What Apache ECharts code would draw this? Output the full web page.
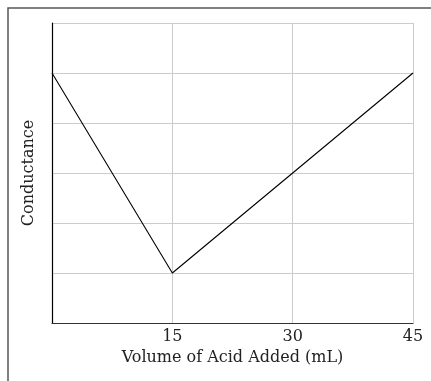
<!DOCTYPE html>
<html><head><meta charset="utf-8">
<script src="https://cdn.jsdelivr.net/npm/echarts@6/dist/echarts.min.js"></script>
<style>html,body{margin:0;padding:0;background:#fff}#c{width:431px;height:381px}</style>
</head><body><div id="c"></div>
<script>
const volume = [0, 15, 45];
const conductance = [5, 1, 5];
const xTicks = [15, 30, 45];
const xName = 'Volume of Acid Added (mL)';
const yName = 'Conductance';

const chart = echarts.init(document.getElementById('c'), null, {renderer: 'canvas'});
const font = 'DejaVu Serif';
chart.setOption({
  animation: false,
  backgroundColor: '#fff',
  graphic: [{
    type: 'rect', shape: {x: 8, y: 8, width: 460, height: 420},
    style: {fill: 'none', stroke: '#555', lineWidth: 1.5}
  }],
  grid: {left: 52, top: 23, right: 18, bottom: 58},
  xAxis: {
    type: 'value', min: 0, max: 45, interval: 15,
    name: xName, nameLocation: 'middle', nameGap: 27,
    nameTextStyle: {fontFamily: font, fontSize: 16, color: '#222'},
    axisLine: {lineStyle: {color: '#333', width: 1.2}},
    axisTick: {show: false},
    axisLabel: {fontFamily: font, fontSize: 16, color: '#222', margin: 6,
      formatter: v => xTicks.includes(v) ? String(v) : ''},
    splitLine: {show: true, lineStyle: {color: '#ccc', width: 1}}
  },
  yAxis: {
    type: 'value', min: 0, max: 6, interval: 1,
    name: yName, nameLocation: 'middle', nameGap: 15, nameRotate: 90,
    nameTextStyle: {fontFamily: font, fontSize: 16, color: '#222'},
    axisLine: {show: true, lineStyle: {color: '#000', width: 1.2}},
    axisTick: {show: false},
    axisLabel: {show: false},
    splitLine: {show: true, lineStyle: {color: '#ccc', width: 1}}
  },
  series: [{
    type: 'line', data: volume.map((v, i) => [v, conductance[i]]),
    showSymbol: false, lineStyle: {color: '#000', width: 1.1}
  }]
});
</script></body></html>
